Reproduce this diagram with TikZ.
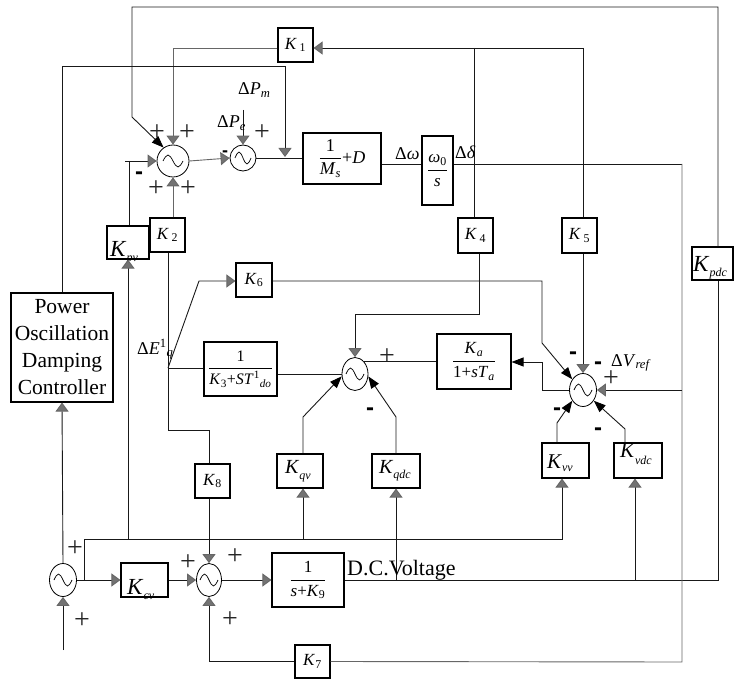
\documentclass[tikz,border=0pt]{standalone}
\usepackage{amsmath}
\usepackage{fontspec}
\setmainfont{Liberation Serif}
\setsansfont{Liberation Sans}
\usetikzlibrary{arrows.meta,shapes.geometric}
\newcommand{\iK}{\textit{K}}
\newcommand{\sbs}[1]{\textsubscript{#1}}
\newcommand{\fr}[2]{$\dfrac{\text{#1}}{\text{#2}}$}
\newcommand{\supsub}[2]{\textsuperscript{#1}\textsubscript{#2}}
\tikzset{
  blk/.style={draw=black, line width=1.1pt, rectangle, inner sep=0pt,
     font=\fontsize{17}{20}\selectfont},
  sumc/.style={draw=black, line width=0.8pt, ellipse, inner sep=0pt,
     path picture={\draw[line width=0.7pt] ([xshift=-#1]path picture bounding box.center)
        sin ++(#1/2,6pt) cos ++(#1/2,-6pt) sin ++(#1/2,-6pt) cos ++(#1/2,6pt);}},
  sumc/.default=10pt,
  ln/.style={line width=0.9pt, draw=black!90},
  gln/.style={line width=0.9pt, draw=black!60},
  garr/.style={-{Triangle[width=13pt,length=9pt,fill=black!55,color=black!60]}},
  barr/.style={-{Triangle[width=9pt,length=12pt,fill=black,color=black]}},
  pl/.style={font=\fontsize{28}{28}\selectfont, inner sep=0pt, text=black!85},
  mn/.style={font=\sffamily\bfseries\fontsize{24}{24}\selectfont, inner sep=0pt},
  lbl/.style={font=\fontsize{18}{18}\selectfont, inner sep=0pt, anchor=base west},
  ktx/.style={inner sep=0pt, anchor=base west},
}
\begin{document}
\begin{tikzpicture}[x=1pt,y=-1pt]
\useasboundingbox (0,0) rectangle (734,679);
% ---------------- blocks
\node[blk, minimum width=35pt, minimum height=34pt] (K1) at (295.5,45) {\iK\,\sbs{1}};
\node[blk, minimum width=78pt, minimum height=51pt, font=\fontsize{18}{20}\selectfont] (MsD) at (342,158.5)
   {$\dfrac{\text{1}}{\text{\textit{M}\sbs{\textit{s}}}}$+\textit{D}};
\node[blk, minimum width=31pt, minimum height=69pt] (W0) at (437.5,170.5)
   {\fr{\textit{ω}\sbs{0}}{\textit{s}}};
\node[blk, minimum width=42pt, minimum height=33pt] (Kpv) at (128,242.5) {};
\node[blk, minimum width=35pt, minimum height=34pt] (K2) at (167.5,235) {\iK\,\sbs{2}};
\node[blk, minimum width=35pt, minimum height=35pt] (K4) at (475.5,235.5) {\iK\,\sbs{4}};
\node[blk, minimum width=35pt, minimum height=35pt] (K5) at (579.5,235.5) {\iK\,\sbs{5}};
\node[blk, minimum width=41pt, minimum height=33pt] (Kpdc) at (712.5,263.5) {};
\node[blk, minimum width=102pt, minimum height=109pt, align=center,
      font=\fontsize{21.5}{27}\selectfont] (POD) at (62,347.5)
   {Power\\Oscillation\\Damping\\Controller};
\node[blk, minimum width=36pt, minimum height=34pt] (K6) at (254,280) {\iK\sbs{6}};
\node[blk, minimum width=73pt, minimum height=54pt, font=\fontsize{16}{20}\selectfont] (K3T) at (240.5,369)
   {\fr{1}{\iK\sbs{3}+\textit{ST}\supsub{1}{\textit{do}}}};
\node[blk, minimum width=74pt, minimum height=55pt] (Ka) at (474,361.5)
   {\fr{\iK\sbs{\textit{a}}}{1+\textit{sT}\sbs{\textit{a}}}};
\node[blk, minimum width=35pt, minimum height=34pt] (K8) at (212.5,481) {\iK\sbs{8}};
\node[blk, minimum width=46pt, minimum height=34pt] (Kqv) at (300,471) {};
\node[blk, minimum width=48pt, minimum height=34pt] (Kqdc) at (396,471) {};
\node[blk, minimum width=47pt, minimum height=35pt] (Kvv) at (565.5,460.5) {};
\node[blk, minimum width=48pt, minimum height=35pt] (Kvdc) at (638,460.5) {};
\node[blk, minimum width=47pt, minimum height=34pt] (Kcv) at (144.5,580) {};
\node[blk, minimum width=72pt, minimum height=54pt] (K9) at (308,580)
   {\fr{1}{\textit{s}+\iK\sbs{9}}};
\node[blk, minimum width=35pt, minimum height=33pt] (K7) at (312.5,661.5) {\iK\sbs{7}};
% K texts with large K
\node[ktx, font=\fontsize{23}{23}\selectfont] (tKpv) at (110,257)
   {\iK\raisebox{-5pt}{\fontsize{12}{12}\selectfont\textit{pv}}};
\node[ktx, font=\fontsize{23}{23}\selectfont] (tKpdc) at (693,272)
   {\iK\raisebox{-5pt}{\fontsize{12}{12}\selectfont\textit{pdc}}};
\node[ktx, font=\fontsize{20}{20}\selectfont] (tKqv) at (285,473)
   {\iK\raisebox{-6pt}{\fontsize{12}{12}\selectfont\textit{qv}}};
\node[ktx, font=\fontsize{20}{20}\selectfont] (tKqdc) at (379,473)
   {\iK\raisebox{-5pt}{\fontsize{12}{12}\selectfont\textit{qdc}}};
\node[ktx, font=\fontsize{21}{21}\selectfont] (tKvv) at (547,468)
   {\iK\raisebox{-3pt}{\fontsize{12}{12}\selectfont\textit{vv}}};
\node[ktx, font=\fontsize{21}{21}\selectfont] (tKvdc) at (620,457)
   {\iK\raisebox{-7pt}{\fontsize{12}{12}\selectfont\textit{vdc}}};
\node[ktx, font=\fontsize{23}{23}\selectfont] (tKcv) at (127,594)
   {\iK\raisebox{-5pt}{\fontsize{12}{12}\selectfont\textit{cv}}};
% ---------------- summing junctions
\node[sumc, minimum width=32pt, minimum height=32pt] (S1) at (173,161) {};
\node[sumc=8pt, minimum width=26pt, minimum height=26pt] (S2) at (243,158) {};
\node[sumc=9pt, minimum width=26pt, minimum height=33pt] (S4) at (355,374) {};
\node[sumc=9pt, minimum width=27pt, minimum height=33pt] (S5) at (583,390) {};
\node[sumc=9pt, minimum width=25pt, minimum height=33pt] (S3) at (209,580) {};
\node[sumc=9pt, minimum width=27pt, minimum height=33pt] (S6) at (63,580) {};
% free ends
\coordinate (inPm) at (243,110);
\coordinate (inS6) at (63,650);
\coordinate (inS1) at (125,161);
\coordinate (jPOD) at (285,157);
\coordinate (E) at (168,368);
% ---------------- connectors
\draw[ln] (K9.east) -- (718,580) -- (Kpdc.south -| 718,0);
\draw[ln,barr] (Kpdc.north -| 718,0) -- (718,7) -- (132,7) -- (132,117) -- (S1.125);
\draw[ln,garr] (396,580) -- (Kqdc.south);
\draw[ln,garr] (635,580) -- (Kvdc.south -| 635,0);
\draw[ln] (W0.east |- 0,164) -- (682,164);
\draw[gln] (682,164) -- (682,662) -- (K7.east);
\draw[ln,garr] (K7.west) -| (S3.south);
\draw[ln,garr] (S5.east -| 682,0) -- (S5.east);
\draw[ln,garr] (583,48) -- (K1.east |- 0,48);
\draw[ln] (583,48) -- (K5.north -| 583,0);
\draw[ln] (474,48) -- (K4.north -| 474,0);
\draw[gln,garr] (K1.west |- 0,48) -| (S1.north);
\draw[ln,garr] (POD.north) |- (285,66) -- (jPOD);
\draw[ln,garr] (inPm) -- (S2.north);
\draw[gln,garr] (S1.east) -- (S2.west);
\draw[ln] (S2.east) -- (MsD.west |- S2.east);
\draw[ln] (MsD.east |- 0,164) -- (W0.west |- 0,164);
\draw[ln,garr] (inS1) -- (S1.west);
\draw[ln] (129,161) -- (Kpv.north -| 129,0);
\draw[gln,garr] (K2.north -| S1.south) -- (S1.south);
\draw[ln] (K2.south -| 168,0) -- (168,430) -| (K8.north -| 209,0);
\draw[ln,garr] (K8.south -| S3.north) -- (S3.north);
\draw[ln] (E) -- (K3T.west |- E);
\draw[ln,garr] (E) -- (199,281) -- (K6.west |- 0,281);
\draw[ln,barr] (K6.east |- 0,281) -- (542,281) -- (542,343) -- (S5.135);
\draw[ln] (K3T.east |- S4.west) -- (S4.west);
\draw[ln,garr] (K4.south -| 479,0) -- (479,314) -| (S4.north);
\draw[ln] (S4.55) -- (S4.55 -| Ka.west);
\draw[ln,barr] (S5.west) -- (S5.west -| 542,0) -- (542,362) -- (Ka.east |- 0,362);
\draw[ln,garr] (K5.south -| S5.north) -- (S5.north);
\draw[ln,barr] (Kvv.north -| 557,0) -- (557,423) -- (S5.225);
\draw[ln,barr] (Kvdc.north -| 625,0) -- (625,429) -- (S5.-45);
\draw[ln,garr] (S6.east -| 84,0) -- (84,539) -- (562,539) -- (Kvv.south -| 562,0);
\draw[ln,garr] (303,539) -- (Kqv.south -| 303,0);
\draw[ln,garr] (128,539) -- (Kpv.south);
\draw[ln,barr] (Kqv.north -| 303,0) -- (303,417) -- (S4.190);
\draw[ln,barr] (Kqdc.north) -- (396,417) -- (S4.-10);
\draw[ln,garr] (S6.east) -- (Kcv.west);
\draw[ln,garr] (Kcv.east) -- (S3.west);
\draw[ln,garr] (S3.east) -- (K9.west);
\draw[ln,garr] (inS6) -- (S6.south);
\draw[ln,garr] (S6.north) -- (POD.south);
% ---------------- signal labels
\node[lbl] (lPm) at (238,95) {Δ\textit{P}\sbs{\textit{m}}};
\node[lbl] (lPe) at (217,128) {Δ\textit{P}\sbs{\textit{e}}};
\node[lbl] (lw) at (395,160) {Δ\textit{ω}};
\node[lbl] (ld) at (455,159) {Δ\textit{δ}};
\node[lbl] (lE) at (137,354) {Δ\textit{E}\supsub{1}{\textit{q}}};
\node[lbl] (lV) at (611,366) {Δ\textit{V}\sbs{\textit{ref}}};
\node[ktx, font=\fontsize{22}{22}\selectfont] (lDC) at (347,575) {D.C.Voltage};
% ---------------- signs
\node[pl] (p1) at (157,133) {+};
\node[pl] (p2) at (187,133) {+};
\node[pl] (p3) at (156,189) {+};
\node[pl] (p4) at (188,189) {+};
\node[mn] (m1) at (139,176) {-};
\node[pl] (p5) at (262,133) {+};
\node[mn, font=\sffamily\bfseries\fontsize{18}{18}\selectfont] (m2) at (225,154) {-};
\node[pl] (p6) at (387,357) {+};
\node[mn] (m3) at (370,412) {-};
\node[mn] (m4) at (573,356) {-};
\node[mn] (m5) at (598,366) {-};
\node[pl] (p7) at (611,379) {+};
\node[mn] (m6) at (557,412) {-};
\node[mn] (m7) at (598,432) {-};
\node[pl] (p8) at (188,563) {+};
\node[pl] (p9) at (235,557) {+};
\node[pl] (p10) at (230,620) {+};
\node[pl] (p11) at (75,549) {+};
\node[pl] (p12) at (82,621) {+};
\end{tikzpicture}
\end{document}
